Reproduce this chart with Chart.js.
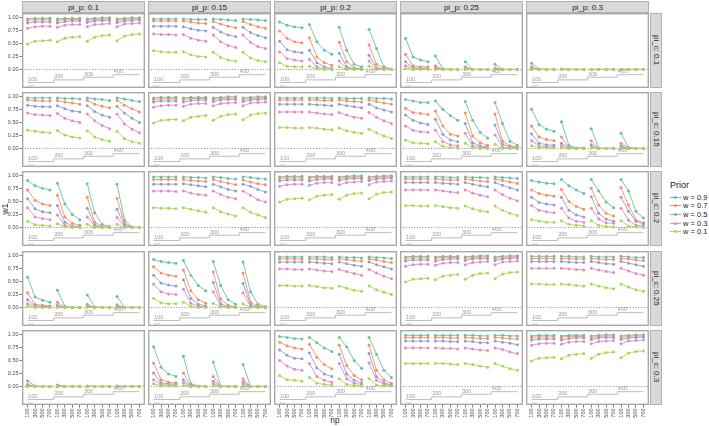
<!DOCTYPE html>
<html><head><meta charset="utf-8">
<script src="https://cdn.jsdelivr.net/npm/chart.js@4.4.1/dist/chart.umd.min.js"></script>
<style>
html,body{margin:0;padding:0;background:#fff;width:709px;height:426px;overflow:hidden;font-family:"Liberation Sans",Arial,sans-serif;}
#root{position:relative;width:709px;height:426px;}
canvas{position:absolute;}
.strip{position:absolute;background:#d9d9d9;border:1px solid #b0b0b0;box-sizing:border-box;color:#1a1a1a;font-size:8px;display:flex;align-items:center;justify-content:center;white-space:nowrap;}
.stripR{writing-mode:vertical-rl;}
.lab{position:absolute;white-space:nowrap;color:#1a1a1a;}
</style></head>
<body><div id="root"></div>
<script>
// ---------- categories / labels ----------
const NP_TICKS = ['100','300','500','700'];
const NC_LABELS = ['100','200','300','400'];
const PI_P = ['0.1','0.15','0.2','0.25','0.3'];
const PI_C = ['0.1','0.15','0.2','0.25','0.3'];
const PRIORS = ['w = 0.9','w = 0.7','w = 0.5','w = 0.3','w = 0.1'];
const Y_TICKS = [0, 0.25, 0.5, 0.75, 1];

// ---------- values: each panel = [w0.9, w0.7, w0.5, w0.3, w0.1], 16 points (nc x np) ----------
const diag = [
 [.97,.98,.98,.98, .97,.98,.98,.98, .97,.98,.99,.99, .97,.98,.99,.99],
 [.94,.95,.95,.95, .94,.96,.96,.96, .94,.96,.97,.97, .94,.96,.97,.97],
 [.89,.91,.91,.91, .89,.92,.93,.93, .90,.93,.94,.94, .90,.93,.94,.95],
 [.79,.82,.83,.83, .81,.85,.86,.86, .82,.86,.87,.88, .82,.87,.88,.89],
 [.49,.54,.55,.56, .53,.60,.62,.63, .54,.62,.65,.66, .55,.64,.67,.68]];
const pp15_pc10 = [
 [.97,.97,.97,.97, .97,.96,.96,.96, .97,.96,.95,.94, .97,.96,.95,.94],
 [.93,.93,.93,.93, .93,.91,.89,.88, .92,.87,.83,.80, .92,.86,.82,.79],
 [.83,.83,.83,.83, .82,.78,.75,.74, .81,.72,.66,.63, .81,.71,.65,.61],
 [.68,.67,.67,.66, .67,.60,.56,.54, .66,.53,.46,.42, .66,.52,.44,.40],
 [.36,.34,.33,.33, .34,.28,.25,.24, .33,.23,.18,.16, .33,.22,.17,.15]];
const pp20_pc10 = [
 [.91,.85,.82,.80, .86,.53,.37,.29, .81,.37,.10,.05, .77,.40,.05,.01],
 [.74,.60,.53,.51, .61,.24,.13,.08, .52,.15,.03,.01, .47,.10,.02,0],
 [.54,.38,.34,.32, .37,.13,.05,.02, .31,.05,.01,0, .27,.03,0,0],
 [.34,.21,.18,.16, .19,.05,.01,0, .16,.02,0,0, .16,.01,0,0],
 [.13,.06,.05,.05, .06,.01,0,0, .05,0,0,0, .06,0,0,0]];
const pp25_pc10 = [
 [.60,.24,.18,.15, .26,.01,0,0, .15,0,0,0, .10,0,0,0],
 [.29,.07,.05,.05, .07,0,0,0, .05,0,0,0, .03,0,0,0],
 [.15,.03,.02,.02, .03,0,0,0, .02,0,0,0, .01,0,0,0],
 [.07,.01,.01,.01, .01,0,0,0, .01,0,0,0, 0,0,0,0],
 [.02,0,0,0, 0,0,0,0, 0,0,0,0, 0,0,0,0]];
const pp30_pc10 = [
 [.12,.01,0,0, .01,0,0,0, 0,0,0,0, 0,0,0,0],
 [.05,0,0,0, 0,0,0,0, 0,0,0,0, 0,0,0,0],
 [.02,0,0,0, 0,0,0,0, 0,0,0,0, 0,0,0,0],
 [.01,0,0,0, 0,0,0,0, 0,0,0,0, 0,0,0,0],
 [0,0,0,0, 0,0,0,0, 0,0,0,0, 0,0,0,0]];
const pp10_pc15 = [
 [.97,.97,.97,.97, .97,.96,.96,.95, .97,.95,.94,.92, .97,.95,.92,.90],
 [.93,.92,.91,.91, .92,.89,.87,.85, .92,.85,.81,.78, .92,.83,.76,.70],
 [.83,.81,.80,.80, .82,.76,.72,.70, .82,.71,.64,.60, .81,.68,.58,.50],
 [.68,.65,.64,.63, .67,.58,.53,.50, .66,.53,.44,.38, .66,.47,.37,.30],
 [.35,.33,.31,.30, .34,.26,.22,.20, .34,.22,.17,.14, .33,.19,.13,.10]];
const pp20_pc15 = [
 [.97,.97,.97,.97, .97,.97,.97,.96, .97,.96,.96,.96, .97,.96,.96,.95],
 [.93,.93,.93,.93, .93,.93,.92,.92, .93,.91,.90,.89, .93,.90,.87,.85],
 [.85,.85,.85,.85, .85,.84,.83,.82, .85,.82,.80,.78, .85,.78,.74,.70],
 [.70,.70,.70,.70, .70,.68,.66,.65, .69,.64,.60,.58, .69,.60,.53,.48],
 [.40,.40,.39,.39, .40,.39,.37,.36, .39,.34,.31,.29, .37,.30,.24,.19]];
const pp25_pc15 = [
 [.94,.91,.88,.88, .91,.75,.63,.54, .90,.54,.31,.20, .88,.48,.14,.06],
 [.77,.69,.67,.65, .72,.43,.27,.24, .68,.24,.11,.06, .66,.14,.05,.03],
 [.64,.54,.49,.46, .56,.27,.16,.13, .48,.11,.05,.03, .45,.08,.03,.01],
 [.43,.35,.32,.31, .35,.13,.07,.05, .29,.05,.02,.01, .26,.03,.01,0],
 [.16,.11,.10,.09, .13,.04,.02,.01, .10,.01,0,0, .08,0,0,0]];
const pp30_pc15 = [
 [.75,.46,.37,.33, .51,.06,.01,.01, .38,.01,0,0, .29,.02,0,0],
 [.43,.22,.17,.15, .22,.02,0,0, .15,0,0,0, .10,.01,0,0],
 [.28,.10,.07,.06, .10,.01,0,0, .07,0,0,0, .05,0,0,0],
 [.15,.05,.03,.03, .05,0,0,0, .03,0,0,0, .02,0,0,0],
 [.05,.01,.01,.01, .01,0,0,0, .01,0,0,0, 0,0,0,0]];
const pp10_pc20 = [
 [.90,.80,.75,.72, .85,.45,.25,.15, .84,.28,.06,.02, .83,.14,.01,0],
 [.72,.52,.45,.42, .62,.20,.08,.04, .58,.10,.02,0, .56,.08,0,0],
 [.55,.36,.30,.28, .42,.10,.03,.01, .37,.05,0,0, .35,.04,0,0],
 [.38,.20,.17,.15, .24,.04,.01,0, .20,.02,0,0, .19,.02,0,0],
 [.12,.05,.04,.03, .07,.01,0,0, .06,0,0,0, .06,0,0,0]];
const pp15_pc20 = [
 [.97,.97,.97,.97, .97,.96,.96,.95, .97,.96,.94,.93, .97,.96,.94,.93],
 [.92,.92,.92,.92, .92,.90,.89,.88, .92,.88,.85,.82, .91,.87,.84,.82],
 [.83,.83,.83,.83, .84,.82,.80,.78, .83,.78,.73,.70, .83,.79,.73,.68],
 [.70,.70,.70,.69, .70,.66,.63,.62, .70,.63,.58,.55, .70,.62,.53,.49],
 [.38,.37,.37,.36, .38,.35,.32,.29, .38,.30,.26,.22, .38,.29,.24,.19]];
const pp25_pc20 = [
 [.97,.97,.97,.97, .97,.97,.96,.96, .97,.96,.96,.95, .97,.96,.95,.94],
 [.93,.93,.93,.93, .93,.92,.91,.91, .93,.91,.89,.88, .93,.90,.87,.85],
 [.86,.86,.86,.86, .86,.85,.84,.83, .86,.83,.80,.78, .86,.81,.76,.72],
 [.72,.72,.72,.72, .72,.70,.68,.67, .72,.66,.62,.59, .72,.63,.56,.51],
 [.42,.42,.41,.41, .42,.40,.38,.37, .41,.36,.32,.30, .41,.33,.27,.23]];
const pp30_pc20 = [
 [.90,.87,.85,.84, .92,.80,.72,.65, .92,.70,.49,.38, .92,.70,.31,.18],
 [.72,.65,.62,.60, .73,.50,.40,.35, .75,.43,.27,.22, .76,.43,.14,.09],
 [.58,.48,.45,.43, .58,.33,.24,.20, .59,.27,.16,.12, .58,.31,.12,.07],
 [.42,.33,.30,.28, .37,.18,.12,.10, .37,.16,.09,.08, .37,.14,.04,.03],
 [.15,.12,.10,.10, .13,.06,.04,.03, .13,.04,.02,.01, .13,.03,.01,0]];
const pp10_pc25 = [
 [.58,.20,.14,.10, .33,.02,0,0, .24,.01,0,0, .21,0,0,0],
 [.28,.06,.04,.03, .10,0,0,0, .06,0,0,0, .05,0,0,0],
 [.15,.03,.02,.01, .04,0,0,0, .03,0,0,0, .02,0,0,0],
 [.07,.01,.01,0, .02,0,0,0, .01,0,0,0, .01,0,0,0],
 [.02,0,0,0, 0,0,0,0, 0,0,0,0, 0,0,0,0]];
const pp15_pc25 = [
 [.92,.88,.86,.85, .90,.62,.42,.32, .88,.42,.15,.06, .87,.30,.06,.02],
 [.78,.66,.62,.60, .72,.32,.15,.08, .68,.16,.04,.01, .66,.10,.02,0],
 [.62,.47,.43,.41, .53,.17,.06,.03, .48,.07,.01,0, .46,.05,0,0],
 [.45,.30,.26,.25, .35,.08,.02,.01, .30,.03,0,0, .28,.02,0,0],
 [.17,.09,.07,.07, .10,.02,0,0, .08,.01,0,0, .07,0,0,0]];
const pp20_pc25 = [
 [.97,.97,.97,.97, .97,.97,.97,.96, .97,.96,.96,.95, .97,.96,.95,.94],
 [.93,.93,.93,.93, .93,.93,.92,.92, .93,.92,.90,.89, .93,.91,.88,.86],
 [.87,.87,.87,.87, .87,.86,.85,.84, .87,.84,.81,.79, .87,.82,.78,.74],
 [.74,.74,.73,.73, .74,.72,.70,.69, .73,.69,.65,.62, .73,.66,.60,.55],
 [.42,.42,.41,.41, .42,.40,.38,.37, .41,.37,.33,.31, .41,.34,.29,.25]];
const pp30_pc25 = [
 [.98,.98,.98,.98, .98,.98,.97,.97, .98,.97,.97,.97, .98,.97,.96,.96],
 [.94,.94,.94,.94, .94,.94,.93,.93, .94,.93,.92,.92, .94,.93,.91,.90],
 [.88,.88,.88,.88, .88,.87,.86,.86, .88,.86,.84,.83, .88,.85,.82,.79],
 [.75,.75,.75,.75, .75,.74,.73,.72, .75,.72,.69,.67, .75,.70,.65,.62],
 [.45,.45,.44,.44, .45,.44,.42,.41, .45,.41,.38,.36, .45,.39,.34,.31]];
const pp10_pc30 = [
 [.11,.01,0,0, .03,0,0,0, .01,0,0,0, .01,0,0,0],
 [.04,0,0,0, .01,0,0,0, 0,0,0,0, 0,0,0,0],
 [.02,0,0,0, 0,0,0,0, 0,0,0,0, 0,0,0,0],
 [.01,0,0,0, 0,0,0,0, 0,0,0,0, 0,0,0,0],
 [0,0,0,0, 0,0,0,0, 0,0,0,0, 0,0,0,0]];
const pp15_pc30 = [
 [.76,.37,.24,.19, .58,.05,.01,0, .47,.01,0,0, .42,0,0,0],
 [.45,.13,.08,.07, .26,.02,0,0, .19,0,0,0, .15,0,0,0],
 [.26,.07,.05,.04, .13,.01,0,0, .10,0,0,0, .09,0,0,0],
 [.13,.04,.02,.02, .07,0,0,0, .05,0,0,0, .05,0,0,0],
 [.05,.01,.01,.01, .02,0,0,0, .01,0,0,0, .01,0,0,0]];
const pp20_pc30 = [
 [.96,.94,.92,.91, .94,.84,.74,.67, .94,.76,.50,.35, .94,.62,.31,.17],
 [.85,.78,.74,.72, .81,.56,.42,.34, .79,.40,.21,.13, .79,.31,.13,.06],
 [.70,.60,.54,.53, .64,.36,.24,.19, .62,.24,.12,.07, .63,.19,.07,.03],
 [.50,.39,.33,.31, .44,.19,.12,.08, .44,.15,.06,.04, .45,.12,.04,.02],
 [.21,.13,.12,.10, .17,.06,.04,.03, .15,.04,.02,.01, .15,.03,.01,.01]];
const pp25_pc30 = [
 [.98,.98,.98,.98, .98,.98,.98,.98, .98,.98,.97,.97, .98,.98,.97,.97],
 [.94,.94,.94,.94, .94,.94,.93,.93, .94,.93,.92,.92, .94,.93,.92,.91],
 [.87,.87,.87,.87, .87,.87,.86,.86, .87,.86,.84,.84, .87,.85,.83,.80],
 [.74,.74,.74,.74, .74,.73,.73,.72, .74,.72,.70,.69, .74,.71,.66,.63],
 [.44,.44,.44,.44, .44,.44,.43,.42, .44,.42,.39,.37, .44,.39,.34,.31]];

// rows = pi_c, columns = pi_p
const PANELS = [
 [diag, pp15_pc10, pp20_pc10, pp25_pc10, pp30_pc10],
 [pp10_pc15, diag, pp20_pc15, pp25_pc15, pp30_pc15],
 [pp10_pc20, pp15_pc20, diag, pp25_pc20, pp30_pc20],
 [pp10_pc25, pp15_pc25, pp20_pc25, diag, pp30_pc25],
 [pp10_pc30, pp15_pc30, pp20_pc30, pp25_pc30, diag]];

// ---------- styling / layout ----------
const COLORS = ['#66C2A5','#FC8D62','#8DA0CB','#E78AC3','#A6D854'];
const FONT = '"Liberation Sans", Arial, sans-serif';
const PX0 = 22, PW = 123, PSTEP = 126, PY0 = 13, PH = 75, PYSTEP = 79.2;
const YMIN = -0.356, YMAX = 1.083, XMIN = -0.75, XMAX = 15.75;
const STAIR = [-0.25, -0.20, -0.15, -0.10];

const root = document.getElementById('root');

function seriesData(vals){
  const out = [];
  for (let g = 0; g < 4; g++){
    for (let k = 0; k < 4; k++) out.push({x: g*4+k, y: vals[g*4+k]});
    if (g < 3) out.push({x: g*4+3.5, y: null});
  }
  return out;
}
function stairData(){
  const pts = [];
  for (let g = 0; g < 4; g++){
    const x0 = g === 0 ? 0 : g*4 - 0.5;
    const x1 = g === 3 ? 15 : g*4 + 3.5;
    pts.push({x: x0, y: STAIR[g]}, {x: x1, y: STAIR[g]});
  }
  return pts;
}

const panelPlugin = {
  id: 'panelDeco',
  afterDatasetsDraw(chart){
    const ctx = chart.ctx, xs = chart.scales.x, ys = chart.scales.y;
    ctx.save();
    ctx.font = '5.5px ' + FONT;
    ctx.textAlign = 'left';
    ctx.textBaseline = 'bottom';
    ctx.fillStyle = '#9a9a9a';
    for (let g = 0; g < 4; g++){
      const x0 = g === 0 ? 0 : g*4 - 0.5;
      ctx.fillText(NC_LABELS[g], xs.getPixelForValue(x0) + 0.5, ys.getPixelForValue(STAIR[g]) - 0.3);
    }
    ctx.fillStyle = '#b8b8b8';
    ctx.textBaseline = 'top';
    ctx.fillText('nc', xs.getPixelForValue(0) + 0.5, ys.getPixelForValue(STAIR[0]) + 0.8);
    ctx.restore();
  },
  afterDraw(chart){
    const ctx = chart.ctx, a = chart.chartArea;
    ctx.save();
    ctx.strokeStyle = '#a9a9a9';
    ctx.lineWidth = 1.4;
    ctx.strokeRect(a.left + 0.7, a.top + 0.7, a.right - a.left - 1.4, a.bottom - a.top - 1.4);
    ctx.restore();
  }
};

function makePanel(r, c){
  const left = PX0 + PSTEP*c;
  const top = Math.round(PY0 + PYSTEP*r);
  const firstCol = c === 0, bottomRow = r === 4;
  const cl = firstCol ? 0 : left;
  const cw = firstCol ? left + PW : PW;
  const ch = bottomRow ? PH + 20 : PH;
  const cv = document.createElement('canvas');
  cv.width = cw; cv.height = ch;
  cv.style.left = cl + 'px'; cv.style.top = top + 'px';
  cv.style.width = cw + 'px'; cv.style.height = ch + 'px';
  root.appendChild(cv);

  const vals = PANELS[r][c];
  const datasets = [
    {data: [{x: XMIN, y: 0}, {x: XMAX, y: 0}], borderColor: '#8a8a8a', borderWidth: 0.9,
     borderDash: [1.2, 1.6], pointRadius: 0, order: 100},
    {data: stairData(), borderColor: '#b5b5b5', borderWidth: 0.9, pointRadius: 0, order: 99}
  ];
  for (let s = 0; s < 5; s++){
    datasets.push({
      label: PRIORS[s], data: seriesData(vals[s]),
      borderColor: COLORS[s], backgroundColor: COLORS[s],
      pointBackgroundColor: COLORS[s], pointBorderWidth: 0,
      borderWidth: 0.9, pointRadius: 1.5, spanGaps: false, order: 4 - s
    });
  }
  new Chart(cv, {
    type: 'line',
    data: {datasets},
    options: {
      responsive: false, maintainAspectRatio: false, animation: false, devicePixelRatio: 1, events: [],
      layout: {padding: 0, autoPadding: false},
      plugins: {legend: {display: false}, tooltip: {enabled: false}},
      scales: {
        x: {
          type: 'linear', min: XMIN, max: XMAX, display: bottomRow,
          grid: {display: true, drawOnChartArea: false, tickLength: 2.5, color: '#555', lineWidth: 0.8},
          border: {display: false},
          ticks: {font: {size: 5.5, family: FONT}, color: '#4d4d4d', padding: 1,
                  minRotation: 90, maxRotation: 90, autoSkip: false,
                  callback: (v) => NP_TICKS[((v % 4) + 4) % 4]},
          afterBuildTicks: (s) => { s.ticks = Array.from({length: 16}, (_, i) => ({value: i})); },
          afterFit: (s) => { s.height = bottomRow ? 20 : 0; s.paddingLeft = 0; s.paddingRight = 0; s.paddingTop = 0; s.paddingBottom = 0; }
        },
        y: {
          type: 'linear', min: YMIN, max: YMAX, display: firstCol,
          grid: {display: true, drawOnChartArea: false, tickLength: 2.5, color: '#555', lineWidth: 0.8},
          border: {display: false},
          ticks: {font: {size: 5.5, family: FONT}, color: '#4d4d4d', padding: 1,
                  callback: (v) => Number(v).toFixed(2)},
          afterBuildTicks: (s) => { s.ticks = Y_TICKS.map(v => ({value: v})); },
          afterFit: (s) => { s.width = firstCol ? 22 : 0; s.paddingTop = 0; s.paddingBottom = 0; s.paddingLeft = 0; s.paddingRight = 0; }
        }
      }
    },
    plugins: [panelPlugin]
  });
}

for (let r = 0; r < 5; r++) for (let c = 0; c < 5; c++) makePanel(r, c);

// strips
for (let c = 0; c < 5; c++){
  const d = document.createElement('div');
  d.className = 'strip';
  d.style.left = (PX0 + PSTEP*c) + 'px'; d.style.top = '1px';
  d.style.width = PW + 'px'; d.style.height = '12px';
  d.textContent = 'pi_p: ' + PI_P[c];
  root.appendChild(d);
}
for (let r = 0; r < 5; r++){
  const d = document.createElement('div');
  d.className = 'strip stripR';
  d.style.left = '650px'; d.style.top = Math.round(PY0 + PYSTEP*r) + 'px';
  d.style.width = '12px'; d.style.height = PH + 'px';
  d.textContent = 'pi_c: ' + PI_C[r];
  root.appendChild(d);
}
// axis titles
const xt = document.createElement('div');
xt.className = 'lab'; xt.textContent = 'np';
xt.style.cssText += 'left:335px;top:420px;font-size:8.5px;transform:translate(-50%,-50%);';
root.appendChild(xt);
const yt = document.createElement('div');
yt.className = 'lab'; yt.textContent = 'w1';
yt.style.cssText += 'left:5px;top:209px;font-size:8.5px;transform:translate(-50%,-50%) rotate(-90deg);';
root.appendChild(yt);
// legend
const lt = document.createElement('div');
lt.className = 'lab'; lt.textContent = 'Prior';
lt.style.cssText += 'left:670px;top:180px;font-size:9px;line-height:10px;';
root.appendChild(lt);
PRIORS.forEach((p, i) => {
  const cy = 197 + i*8.7;
  const ln = document.createElement('div');
  ln.style.cssText = `position:absolute;left:670px;top:${cy-0.5}px;width:11px;height:1px;background:${COLORS[i]};`;
  root.appendChild(ln);
  const dot = document.createElement('div');
  dot.style.cssText = `position:absolute;left:${675.5-1.5}px;top:${cy-1.5}px;width:3px;height:3px;border-radius:50%;background:${COLORS[i]};`;
  root.appendChild(dot);
  const tx = document.createElement('div');
  tx.className = 'lab'; tx.textContent = p;
  tx.style.cssText += `left:683px;top:${cy-4.5}px;font-size:7.5px;line-height:9px;`;
  root.appendChild(tx);
});
</script>
</body></html>
